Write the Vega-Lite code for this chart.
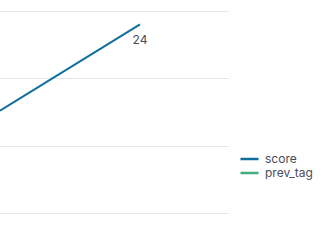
{
  "$schema": "https://vega.github.io/schema/vega-lite/v6.json",
  "width": 228,
  "height": 202,
  "padding": {"left": 0, "top": 11, "right": 103, "bottom": 35},
  "autosize": {"type": "none"},
  "background": "white",
  "config": {
    "view": {"stroke": null},
    "font": "Inter",
    "axis": {"gridColor": "#e6e6e6", "gridWidth": 1, "domain": false, "ticks": false, "labels": false, "title": null}
  },
  "data": {
    "values": [
      {"step": 0, "value": 17.6, "series": "score", "label": ""},
      {"step": 1, "value": 24, "series": "score", "label": "24"}
    ]
  },
  "layer": [
    {
      "mark": {"type": "line", "strokeWidth": 2, "clip": true},
      "encoding": {
        "x": {"field": "step", "type": "quantitative", "scale": {"domain": [0, 1.6286], "nice": false, "zero": false}, "axis": null},
        "y": {"field": "value", "type": "quantitative", "scale": {"domain": [10, 25], "nice": false, "zero": false}, "axis": {"values": [10, 15, 20, 25], "grid": true}},
        "color": {
          "field": "series",
          "type": "nominal",
          "scale": {"domain": ["score", "prev_tag"], "range": ["#0e6f9c", "#44ad80"]},
          "legend": {
            "orient": "none",
            "legendX": 239,
            "legendY": 141,
            "title": null,
            "symbolType": "stroke",
            "symbolStrokeWidth": 2.5,
            "symbolSize": 324,
            "labelFontSize": 12,
            "labelColor": "#4b4b5a",
            "labelFont": "Inter",
            "rowPadding": 0,
            "clipHeight": 14,
            "labelOffset": 5
          }
        }
      }
    },
    {
      "mark": {"type": "text", "dy": 16, "align": "center", "fontSize": 12, "color": "#4b4b5a", "font": "Inter"},
      "encoding": {
        "x": {"field": "step", "type": "quantitative"},
        "y": {"field": "value", "type": "quantitative"},
        "text": {"field": "label"}
      }
    }
  ]
}
